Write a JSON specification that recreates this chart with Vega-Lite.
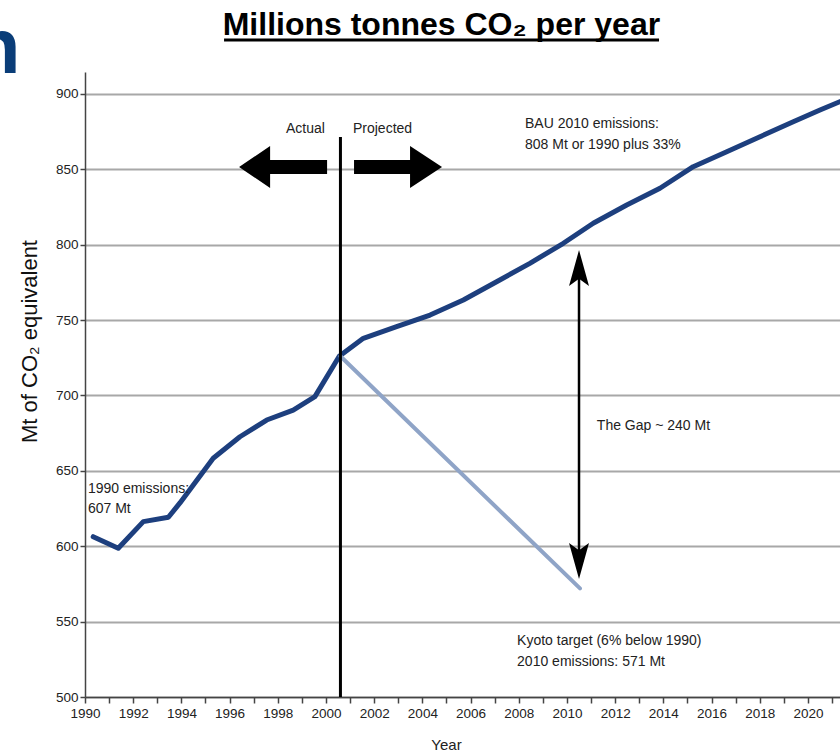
{
  "$schema": "https://vega.github.io/schema/vega-lite/v6.json",
  "width": 755,
  "height": 625,
  "autosize": {"type": "none"},
  "padding": {"left": 85, "top": 72, "right": 0, "bottom": 56},
  "background": "white",
  "config": {"view": {"stroke": null}, "font": "Liberation Sans"},
  "datasets": {
    "bau": [
      {"year": 1990.34, "mt": 606.3},
      {"year": 1991.38, "mt": 598.6},
      {"year": 1992.42, "mt": 616.3},
      {"year": 1993.46, "mt": 619.2},
      {"year": 1993.94, "mt": 628.7},
      {"year": 1995.32, "mt": 658.3},
      {"year": 1996.43, "mt": 672.6},
      {"year": 1997.54, "mt": 683.7},
      {"year": 1998.64, "mt": 690.3},
      {"year": 1999.54, "mt": 699.2},
      {"year": 2000.55, "mt": 726.0},
      {"year": 2001.55, "mt": 737.9},
      {"year": 2002.93, "mt": 745.6},
      {"year": 2004.32, "mt": 753.3},
      {"year": 2005.70, "mt": 763.3},
      {"year": 2007.08, "mt": 775.4},
      {"year": 2008.46, "mt": 787.6},
      {"year": 2009.85, "mt": 800.9},
      {"year": 2011.09, "mt": 814.2},
      {"year": 2012.48, "mt": 826.3},
      {"year": 2013.86, "mt": 837.4},
      {"year": 2015.24, "mt": 851.7},
      {"year": 2016.63, "mt": 861.6},
      {"year": 2018.01, "mt": 871.6},
      {"year": 2019.39, "mt": 881.5},
      {"year": 2020.50, "mt": 889.3},
      {"year": 2021.50, "mt": 896.0}
    ],
    "kyoto": [
      {"year": 2000.6, "mt": 726.0},
      {"year": 2010.54, "mt": 572.0}
    ],
    "divider": [{"year": 2000.6, "mt": 871.4, "mt2": 500}],
    "gap": [{"year": 2010.5, "mt": 790, "mt2": 585}],
    "heads": [
      {"year": 1998.22, "mt": 851.5, "dir": "left"},
      {"year": 2002.99, "mt": 851.5, "dir": "right"},
      {"year": 2010.5, "mt": 784.5, "dir": "up"},
      {"year": 2010.5, "mt": 590.2, "dir": "down"}
    ],
    "notes": [
      {"year": 1998.34, "mt": 874.0, "text": "Actual"},
      {"year": 2001.12, "mt": 874.0, "text": "Projected"},
      {"year": 2008.26, "mt": 877.4, "text": "BAU 2010 emissions:"},
      {"year": 2008.26, "mt": 863.4, "text": "808 Mt or 1990 plus 33%"},
      {"year": 2011.24, "mt": 677.1, "text": "The Gap ~ 240 Mt"},
      {"year": 2007.93, "mt": 534.5, "text": "Kyoto target (6% below 1990)"},
      {"year": 2007.93, "mt": 520.6, "text": "2010 emissions: 571 Mt"},
      {"year": 1990.12, "mt": 635.3, "text": "1990 emissions:"},
      {"year": 1990.12, "mt": 622.0, "text": "607 Mt"}
    ],
    "heading": [{"year": 2004.79, "mt": 939.0, "text": "Millions tonnes CO₂ per year"}],
    "underline": [{"year": 1995.77, "year2": 2013.82, "mt": 935.7}],
    "fragment": [{"year": 1987.32, "mt": 913.8, "text": "n"}]
  },
  "encoding": {
    "x": {
      "field": "year",
      "type": "quantitative",
      "scale": {"domain": [1990, 2021.33], "nice": false, "zero": false},
      "axis": {
        "title": "Year",
        "values": [1990, 1991, 1992, 1993, 1994, 1995, 1996, 1997, 1998, 1999, 2000, 2001, 2002, 2003, 2004, 2005, 2006, 2007, 2008, 2009, 2010, 2011, 2012, 2013, 2014, 2015, 2016, 2017, 2018, 2019, 2020, 2021],
        "format": "d",
        "labelExpr": "datum.value % 2 === 0 ? datum.label : ''",
        "grid": false,
        "domainColor": "#444444",
        "domainWidth": 1.5,
        "tickColor": "#444444",
        "tickWidth": 1.5,
        "tickSize": 6,
        "labelFont": "Liberation Sans",
        "labelFontSize": 13.5,
        "labelColor": "#222222",
        "labelPadding": 3,
        "labelOverlap": false,
        "labelFlush": false,
        "titleFont": "Liberation Sans",
        "titleFontSize": 15,
        "titleFontWeight": "normal",
        "titleColor": "#222222",
        "titleX": 361,
        "titleY": 52,
        "titleBaseline": "alphabetic"
      }
    },
    "y": {
      "field": "mt",
      "type": "quantitative",
      "scale": {"domain": [500, 914.5], "nice": false, "zero": false},
      "axis": {
        "title": "Mt of CO₂ equivalent",
        "values": [500, 550, 600, 650, 700, 750, 800, 850, 900],
        "grid": true,
        "gridColor": "#a8a8a8",
        "gridWidth": 2,
        "domainColor": "#444444",
        "domainWidth": 1.5,
        "tickColor": "#444444",
        "tickWidth": 1.5,
        "tickSize": 5,
        "labelFont": "Liberation Sans",
        "labelFontSize": 13.5,
        "labelColor": "#222222",
        "labelPadding": 2,
        "titleFont": "Liberation Sans",
        "titleFontSize": 22,
        "titleFontWeight": "normal",
        "titleColor": "#111111",
        "titleX": -49,
        "titleY": 269,
        "titleAlign": "center",
        "titleBaseline": "alphabetic"
      }
    }
  },
  "layer": [
    {
      "data": {"name": "bau"},
      "mark": {"type": "line", "color": "#1d3f7e", "strokeWidth": 5, "strokeCap": "round", "strokeJoin": "round", "clip": true}
    },
    {
      "data": {"name": "kyoto"},
      "mark": {"type": "line", "color": "#8fa4c7", "strokeWidth": 4, "strokeCap": "round", "clip": true}
    },
    {
      "data": {"name": "divider"},
      "mark": {"type": "rule", "color": "black", "strokeWidth": 3},
      "encoding": {"y2": {"field": "mt2"}}
    },
    {
      "data": {"name": "gap"},
      "mark": {"type": "rule", "color": "black", "strokeWidth": 2.5},
      "encoding": {"y2": {"field": "mt2"}}
    },
    {
      "data": {"name": "heads"},
      "mark": {"type": "point", "filled": true, "color": "black", "opacity": 1, "strokeWidth": 0, "size": 7744},
      "encoding": {
        "shape": {
          "field": "dir",
          "type": "nominal",
          "legend": null,
          "scale": {
            "domain": ["left", "right", "up", "down"],
            "range": [
              "M-1,0L-0.295,-0.477L-0.295,-0.159L1,-0.159L1,0.159L-0.295,0.159L-0.295,0.477Z",
              "M1,0L0.273,-0.477L0.273,-0.159L-1,-0.159L-1,0.159L0.273,0.159L0.273,0.477Z",
              "M0,-0.409L0.227,0.409L0,0.245L-0.227,0.409Z",
              "M0,0.409L0.227,-0.409L0,-0.245L-0.227,-0.409Z"
            ]
          }
        }
      }
    },
    {
      "data": {"name": "notes"},
      "mark": {"type": "text", "align": "left", "baseline": "alphabetic", "font": "Liberation Sans", "fontSize": 14, "color": "#222222"},
      "encoding": {"text": {"field": "text"}}
    },
    {
      "data": {"name": "heading"},
      "mark": {"type": "text", "align": "center", "baseline": "alphabetic", "font": "Liberation Sans", "fontSize": 32, "fontWeight": "bold", "color": "black", "clip": false},
      "encoding": {"text": {"field": "text"}}
    },
    {
      "data": {"name": "underline"},
      "mark": {"type": "rule", "color": "black", "strokeWidth": 3, "clip": false},
      "encoding": {"x2": {"field": "year2"}}
    },
    {
      "data": {"name": "fragment"},
      "mark": {"type": "text", "align": "right", "baseline": "alphabetic", "font": "Liberation Sans", "fontSize": 78, "fontWeight": "bold", "color": "#0a3d78", "clip": false},
      "encoding": {"text": {"field": "text"}}
    }
  ]
}
